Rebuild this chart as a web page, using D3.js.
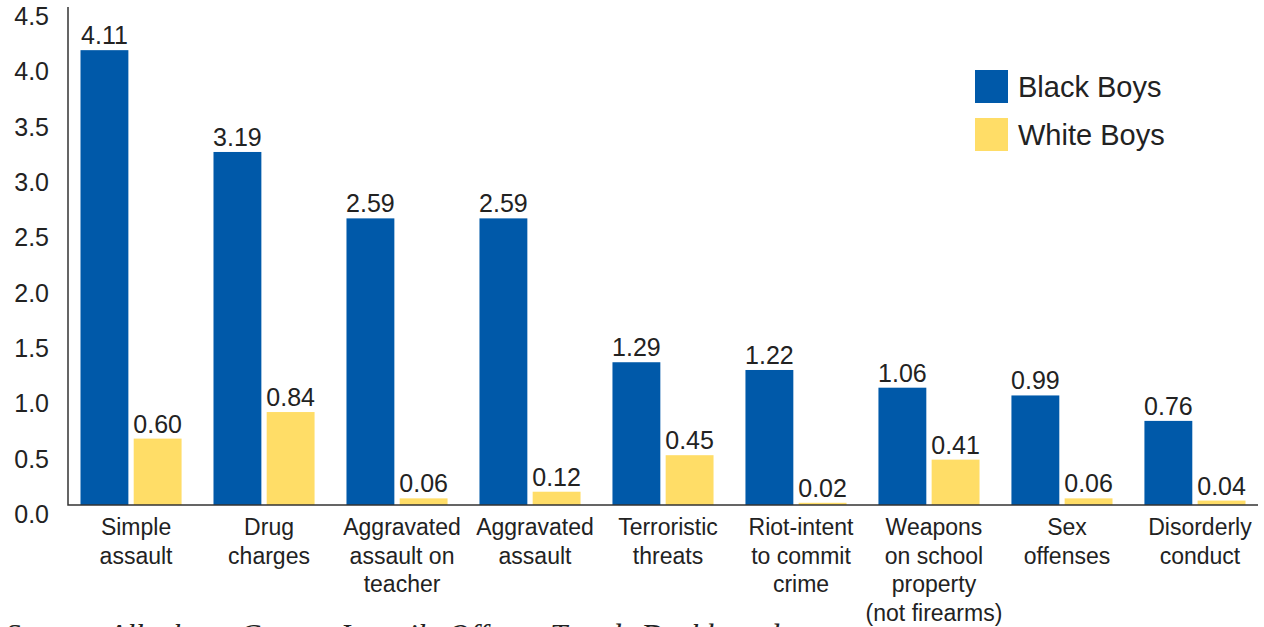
<!DOCTYPE html>
<html>
<head>
<meta charset="utf-8">
<script src="https://cdn.jsdelivr.net/npm/d3@7"></script>
<style>
  html, body { margin: 0; padding: 0; background: #fff; overflow: hidden; }
  svg { display: block; }
  text { font-family: "Liberation Sans", Arial, sans-serif; fill: #222; }
</style>
</head>
<body>
<svg id="chart" width="1264" height="627"></svg>
<script>
// Offense categories (multi-line labels split on "|")
const categories = [
  "Simple|assault",
  "Drug|charges",
  "Aggravated|assault on|teacher",
  "Aggravated|assault",
  "Terroristic|threats",
  "Riot-intent|to commit|crime",
  "Weapons|on school|property|(not firearms)",
  "Sex|offenses",
  "Disorderly|conduct"
];
const seriesNames = ["Black Boys", "White Boys"];
const blackBoys = [4.11, 3.19, 2.59, 2.59, 1.29, 1.22, 1.06, 0.99, 0.76];
const whiteBoys = [0.60, 0.84, 0.06, 0.12, 0.45, 0.02, 0.41, 0.06, 0.04];
const yTicks = [0, 0.5, 1, 1.5, 2, 2.5, 3, 3.5, 4, 4.5];
const sourceNote = "Source: Allegheny County Juvenile Offense Trends Dashboard";

const colors = { "Black Boys": "#0059A9", "White Boys": "#FFDD67" };

const svg = d3.select("#chart");
const plotLeft = 68, plotRight = 1258, plotTop = 7, plotBottom = 505;

const x = d3.scaleBand()
  .domain(categories)
  .range([plotLeft, plotRight])
  .paddingInner(0.24)
  .paddingOuter(0.094);

const xs = d3.scaleBand()
  .domain(seriesNames)
  .range([0, x.bandwidth()])
  .paddingInner(0.1);

const y = d3.scaleLinear().domain([0, 4.5]).range([plotBottom, plotTop]);

const rows = categories.map((c, i) => ({
  cat: c,
  vals: [
    { s: "Black Boys", v: blackBoys[i] },
    { s: "White Boys", v: whiteBoys[i] }
  ]
}));

// Bars
const groups = svg.append("g").selectAll("g")
  .data(rows).join("g")
  .attr("transform", d => `translate(${x(d.cat)},0)`);

groups.selectAll("rect")
  .data(d => d.vals).join("rect")
  .attr("x", d => xs(d.s))
  .attr("width", xs.bandwidth())
  .attr("y", d => y(d.v))
  .attr("height", d => y(0) - y(d.v))
  .attr("fill", d => colors[d.s]);

// Value labels
groups.selectAll("text.val")
  .data(d => d.vals).join("text")
  .attr("class", "val")
  .attr("x", d => xs(d.s) + xs.bandwidth() / 2)
  .attr("y", d => y(d.v) - 6)
  .attr("text-anchor", "middle")
  .style("font-size", "25px")
  .text(d => d.v.toFixed(2));

// Y axis
const yAxis = d3.axisLeft(y)
  .tickValues(yTicks)
  .tickFormat(d3.format(".1f"))
  .tickSize(0)
  .tickPadding(19);

const yg = svg.append("g")
  .attr("transform", `translate(${plotLeft},0)`)
  .call(yAxis);
yg.select(".domain").remove();
yg.selectAll("text")
  .attr("dy", "0.7em")
  .attr("fill", "#222")
  .style("font-family", "\"Liberation Sans\", Arial, sans-serif")
  .style("font-size", "25px");

// X axis
const xAxis = d3.axisBottom(x).tickSize(0).tickFormat("");
const xg = svg.append("g")
  .attr("transform", `translate(0,${plotBottom})`)
  .call(xAxis);
xg.select(".domain").remove();

xg.selectAll(".tick").append("text")
  .attr("text-anchor", "middle")
  .attr("fill", "#222")
  .style("font-size", "23px")
  .selectAll("tspan")
  .data(d => d.split("|")).join("tspan")
  .attr("x", 5)
  .attr("y", (d, i) => 30 + i * 28.5)
  .text(d => d);

// Axis lines
svg.append("path")
  .attr("d", `M${plotLeft},${plotTop}V${plotBottom}H${plotRight}`)
  .attr("fill", "none")
  .attr("stroke", "#333")
  .attr("stroke-width", 1.5);

// Legend
const legend = svg.append("g").attr("transform", "translate(975,70)");
const li = legend.selectAll("g").data(seriesNames).join("g")
  .attr("transform", (d, i) => `translate(0,${i * 48})`);
li.append("rect")
  .attr("width", 33).attr("height", 33)
  .attr("fill", d => colors[d]);
li.append("text")
  .attr("x", 43).attr("y", 17).attr("dy", "0.35em")
  .style("font-size", "29px")
  .text(d => d);

// Source note (runs off the bottom edge)
svg.append("text")
  .attr("x", 5).attr("y", 646)
  .style("font-family", "\"Liberation Serif\", \"DejaVu Serif\", serif")
  .style("font-style", "italic")
  .style("font-size", "31px")
  .text(sourceNote);
</script>
</body>
</html>
